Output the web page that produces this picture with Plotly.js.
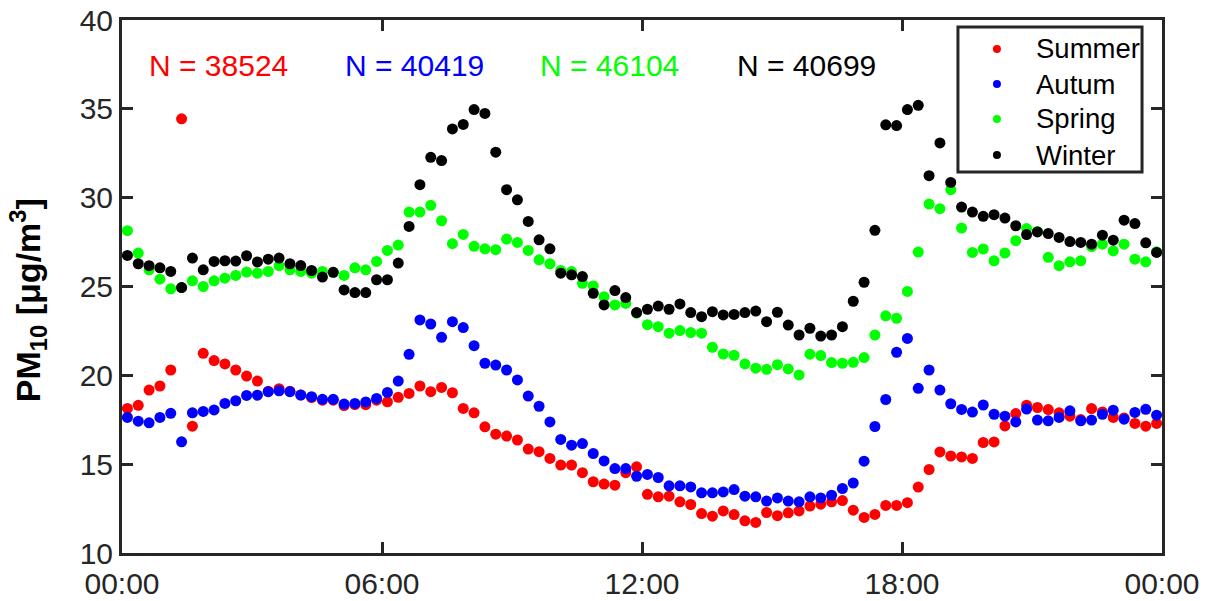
<!DOCTYPE html>
<html>
<head>
<meta charset="utf-8">
<script src="https://cdn.plot.ly/plotly-3.0.1.min.js"></script>
<style>
html,body{margin:0;padding:0;background:#fff;}
#chart{width:1208px;height:601px;}
</style>
</head>
<body>
<div id="chart"></div>
<script>
// Hour of day (bin centres, 15-min bins)
const hours = [
0.125,0.375,0.625,0.875, 1.125,1.375,1.625,1.875, 2.125,2.375,2.625,2.875, 3.125,3.375,3.625,3.875,
4.125,4.375,4.625,4.875, 5.125,5.375,5.625,5.875, 6.125,6.375,6.625,6.875, 7.125,7.375,7.625,7.875,
8.125,8.375,8.625,8.875, 9.125,9.375,9.625,9.875, 10.125,10.375,10.625,10.875, 11.125,11.375,11.625,11.875,
12.125,12.375,12.625,12.875, 13.125,13.375,13.625,13.875, 14.125,14.375,14.625,14.875, 15.125,15.375,15.625,15.875,
16.125,16.375,16.625,16.875, 17.125,17.375,17.625,17.875, 18.125,18.375,18.625,18.875, 19.125,19.375,19.625,19.875,
20.125,20.375,20.625,20.875, 21.125,21.375,21.625,21.875, 22.125,22.375,22.625,22.875, 23.125,23.375,23.625,23.875
];

const summer = [
18.14,18.31,19.17,19.40,20.30,34.44,17.14,21.24,20.83,20.64,20.30,19.96,19.68,19.10,19.25,19.10,
18.90,18.75,18.60,18.60,18.30,18.35,18.35,18.60,18.51,18.76,18.98,19.40,19.08,19.32,19.02,18.14,
17.89,17.10,16.69,16.58,16.36,15.85,15.70,15.32,14.95,14.95,14.52,14.01,13.88,13.82,14.52,14.85,
13.30,13.16,13.20,12.88,12.73,12.22,12.07,12.37,12.16,11.81,11.72,12.28,12.10,12.26,12.37,12.64,
12.75,12.88,12.95,12.41,12.00,12.17,12.68,12.68,12.83,13.71,14.70,15.69,15.46,15.41,15.32,16.22,
16.25,17.15,17.85,18.32,18.19,18.07,17.89,17.70,17.51,18.13,17.94,17.63,17.60,17.29,17.14,17.29
];

const autum = [
17.63,17.42,17.33,17.63,17.86,16.26,17.89,17.97,18.05,18.42,18.57,18.87,18.88,19.08,19.13,19.08,
18.89,18.80,18.65,18.65,18.38,18.42,18.50,18.70,19.04,19.68,21.18,23.12,22.89,22.14,23.02,22.69,
21.67,20.68,20.58,20.30,19.74,18.83,18.26,17.38,16.39,16.07,16.16,15.60,15.18,14.75,14.75,14.32,
14.42,14.25,13.78,13.78,13.72,13.39,13.39,13.44,13.57,13.20,13.16,12.92,13.10,12.92,12.88,13.16,
13.10,13.25,13.63,13.94,15.17,17.12,18.64,21.30,22.08,19.27,20.30,19.17,18.40,18.08,17.93,18.33,
17.81,17.70,17.38,18.10,17.48,17.44,17.63,18.00,17.44,17.48,17.81,18.04,17.53,17.91,18.09,17.76
];

const spring = [
28.14,26.88,25.94,25.41,24.87,24.95,25.32,25.00,25.32,25.47,25.62,25.81,25.75,25.85,26.17,25.94,
25.85,25.75,25.85,25.80,25.62,26.05,25.94,26.41,27.03,27.33,29.19,29.19,29.57,28.70,27.41,27.93,
27.26,27.12,27.07,27.67,27.48,27.03,26.50,26.28,25.90,25.84,25.18,25.03,24.43,23.96,24.05,23.50,
22.85,22.74,22.37,22.52,22.41,22.37,21.58,21.20,21.13,20.64,20.40,20.34,20.60,20.36,20.02,21.19,
21.11,20.72,20.68,20.73,21.00,22.27,23.35,23.21,24.72,26.94,29.64,29.38,30.45,28.29,26.92,27.11,
26.45,26.88,27.58,28.26,28.10,26.64,26.17,26.39,26.45,27.25,27.38,27.00,27.38,26.54,26.39,26.95
];

const winter = [
26.75,26.28,26.17,26.05,25.85,24.94,26.60,25.94,26.41,26.45,26.43,26.73,26.38,26.54,26.60,26.28,
26.18,25.90,25.53,25.80,24.81,24.66,24.66,25.38,25.38,26.32,28.38,30.73,32.27,32.09,33.87,34.12,
34.96,34.74,32.56,30.45,29.88,28.66,27.63,27.12,25.75,25.66,25.56,24.62,23.96,24.77,24.38,23.53,
23.72,23.90,23.72,24.02,23.53,23.30,23.58,23.40,23.43,23.53,23.62,23.02,23.55,22.83,22.27,22.65,
22.21,22.27,22.74,24.17,25.24,28.16,34.10,34.06,34.96,35.20,31.24,33.08,30.86,29.47,29.19,28.95,
29.04,28.85,28.42,27.92,28.07,27.98,27.76,27.53,27.48,27.38,27.89,27.61,28.73,28.54,27.46,26.92
];

const seriesNames = ["Summer", "Autum", "Spring", "Winter"];
const seriesColors = ["#ff0000", "#0000ff", "#00ff00", "#000000"];
const seriesData = [summer, autum, spring, winter];
const counts = ["N = 38524", "N = 40419", "N = 46104", "N = 40699"];
const countX = [0.58, 5.1, 9.6, 14.15];

const tickVals = [0, 6, 12, 18, 24];
const tickText = ["00:00", "06:00", "12:00", "18:00", "00:00"];
const yTitle = '<b>PM<sub>10</sub> [μg/m<sup>3</sup>]</b>';

const FONT = '"Liberation Sans", Arial, Helvetica, sans-serif';
const AXC = '#262626';

const traces = seriesData.map((d, k) => ({
  x: hours, y: d, type: 'scatter', mode: 'markers',
  name: seriesNames[k], showlegend: false,
  marker: {color: seriesColors[k], size: 11, line: {width: 0}},
  hoverinfo: 'x+y'
}));

const annotations = counts.map((t, k) => ({
  x: countX[k], y: 37.45, xref: 'x', yref: 'y',
  text: t, showarrow: false, xanchor: 'left', yanchor: 'middle',
  font: {family: FONT, size: 30, color: seriesColors[k]}
}));

// y-axis title
annotations.push({
  x: -0.091, y: 0.475, xref: 'paper', yref: 'paper',
  text: yTitle, textangle: -90, showarrow: false,
  xanchor: 'center', yanchor: 'middle',
  font: {family: FONT, size: 34, color: '#000000'}
});

// Legend box (drawn in paper space, top-right corner)
const legBox = {x0: 0.8038, x1: 0.9808, y0: 0.7148, y1: 0.9869};
const legMarkerX = 0.8413, legTextX = 0.8769;
const legRowY = [0.9456, 0.8799, 0.8143, 0.7467];
const shapes = [{
  type: 'rect', xref: 'paper', yref: 'paper',
  x0: legBox.x0, x1: legBox.x1, y0: legBox.y0, y1: legBox.y1,
  line: {color: AXC, width: 3}, fillcolor: '#ffffff', layer: 'above'
}];
seriesNames.forEach((n, k) => {
  shapes.push({
    type: 'circle', xref: 'paper', yref: 'paper',
    xsizemode: 'pixel', ysizemode: 'pixel',
    xanchor: legMarkerX, yanchor: legRowY[k],
    x0: -4, x1: 4, y0: -4, y1: 4,
    line: {width: 0}, fillcolor: seriesColors[k], layer: 'above'
  });
  annotations.push({
    x: legTextX, y: legRowY[k], xref: 'paper', yref: 'paper',
    text: n, showarrow: false, xanchor: 'left', yanchor: 'middle',
    font: {family: FONT, size: 27.5, color: '#000000'}
  });
});

const layout = {
  width: 1208, height: 601,
  margin: {l: 122, r: 46, t: 20, b: 48},
  paper_bgcolor: '#ffffff', plot_bgcolor: '#ffffff',
  font: {family: FONT, color: AXC},
  showlegend: false,
  xaxis: {
    range: [0, 24], tickvals: tickVals, ticktext: tickText,
    showgrid: false, zeroline: false,
    showline: true, linecolor: AXC, linewidth: 3, mirror: 'ticks',
    ticks: 'inside', ticklen: 11, tickwidth: 3, tickcolor: AXC,
    tickfont: {family: FONT, size: 30, color: AXC},
    ticklabelstandoff: 2,
    fixedrange: true
  },
  yaxis: {
    range: [10, 40], tickvals: [10, 15, 20, 25, 30, 35, 40],
    showgrid: false, zeroline: false,
    showline: true, linecolor: AXC, linewidth: 3, mirror: 'ticks',
    ticks: 'inside', ticklen: 11, tickwidth: 3, tickcolor: AXC,
    tickfont: {family: FONT, size: 30, color: AXC},
    fixedrange: true
  },
  shapes: shapes,
  annotations: annotations
};

Plotly.newPlot('chart', traces, layout, {displayModeBar: false, staticPlot: true});
</script>
</body>
</html>
